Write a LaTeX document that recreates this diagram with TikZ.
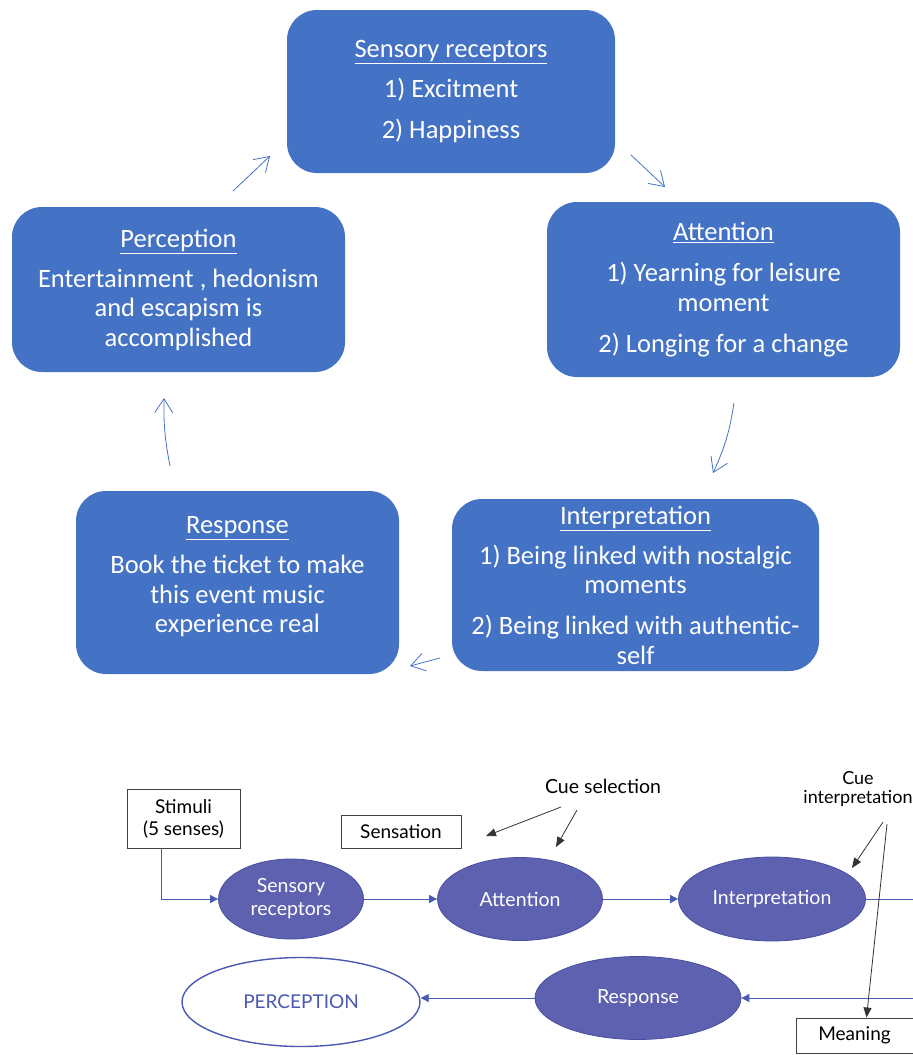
\documentclass[tikz,border=0pt]{standalone}
\usepackage{fontspec}
\setmainfont{Carlito}
\newfontfamily\avfont{Lato}
\usepackage{xcolor}
\usetikzlibrary{positioning,calc,arrows.meta,shapes.geometric}

\definecolor{boxblue}{HTML}{4472C4}
\definecolor{ellblue}{RGB}{93,97,176}
\definecolor{ellrim}{RGB}{72,78,160}
\definecolor{flowblue}{RGB}{74,90,178}

\begin{document}
\begin{tikzpicture}[x=1pt, y=-1pt,
    cyclebox/.style={rectangle, rounded corners=30pt, fill=boxblue, text=white, align=center,
      inner sep=0pt, font=\fontsize{26.5}{29.5}\selectfont},
    cyclearrow/.style={draw=boxblue, line width=0.8pt, -{Straight Barb[length=14pt,width=18pt]}},
    framebox/.style={rectangle, draw=black!75, line width=0.9pt, fill=white, align=center,
      inner sep=0pt, font=\avfont\fontsize{19}{22}\selectfont},
    stage/.style={ellipse, fill=ellblue, draw=ellrim, line width=0.8pt, text=white, align=center,
      inner sep=0pt, font=\avfont\fontsize{19.5}{23}\selectfont},
    flow/.style={draw=flowblue, line width=0.9pt, -{Triangle[length=8pt,width=8pt]}},
    cuearrow/.style={draw=black!80, line width=0.8pt, -{Triangle[length=10pt,width=8pt]}}]
  \useasboundingbox (0,0) rectangle (913,1055);
  \clip (0,0) rectangle (913,1055);

  % Cycle (top)
  \node[cyclebox, minimum width=328pt, minimum height=163pt] (srbox) at (451,91.5)
    {\underline{Sensory receptors}\\[11pt] 1) Excitment\\[11.5pt] 2) Happiness};
  \node[cyclebox, minimum width=353pt, minimum height=175pt] (attbox) at (723.5,289.5)
    {\underline{Attention}\\[11.5pt] 1) Yearning for leisure\\ moment\\[11.5pt] 2) Longing for a change};
  \node[cyclebox, minimum width=333pt, minimum height=165pt] (percbox) at (178.5,289.5)
    {\underline{Perception}\\[10.5pt] Entertainment , hedonism\\ and escapism is\\ accomplished};
  \node[cyclebox, minimum width=367pt, minimum height=172pt] (intbox) at (635.5,585)
    {\underline{Interpretation}\\[10.5pt] 1) Being linked with nostalgic\\ moments\\[11.5pt] 2) Being linked with authentic-\\ self};
  \node[cyclebox, minimum width=323pt, minimum height=183pt] (resbox) at (237.5,582.5) {};
  \node[cyclebox, fill=none] (restext) at (237.5,577)
    {\underline{Response}\\[10.5pt] Book the ticket to make\\ this event music\\ experience real};

  \coordinate (pa) at (233,191);  \coordinate (pb) at (270,156);
  \coordinate (sa) at (631,155);  \coordinate (sb) at (665,187);
  \coordinate (aa) at (734,403);  \coordinate (ab) at (713,473);
  \coordinate (ia) at (440,658);  \coordinate (ib) at (410,666);
  \coordinate (ra) at (170,466);  \coordinate (rb) at (164,398);
  \draw[cyclearrow] (pa) -- (pb);
  \draw[cyclearrow] (sa) -- (sb);
  \draw[cyclearrow] (aa) to[bend left=8] (ab);
  \draw[cyclearrow] (ia) -- (ib);
  \draw[cyclearrow] (ra) to[bend left=6] (rb);

  % Perception process (bottom)
  \node[framebox, minimum width=113pt, minimum height=59pt] (stim) at (183.5,818.5) {Stimuli\\(5 senses)};
  \node[framebox, minimum width=120pt, minimum height=33pt] (sens) at (401,831.5) {Sensation};
  \node[framebox, minimum width=117pt, minimum height=35pt] (meaning) at (854.5,1035.5) {Meaning};
  \node[font=\avfont\fontsize{19.5}{22}\selectfont] (cuesel) at (603,786) {Cue selection};
  \node[font=\avfont\fontsize{18}{19.5}\selectfont, align=center] (cueint) at (858,789) {Cue\\interpretation};

  \node[stage, minimum width=145pt, minimum height=80pt] (esr) at (291,899) {Sensory\\receptors};
  \node[stage, minimum width=165pt, minimum height=83pt] (eatt) at (520,899) {Attention};
  \node[stage, minimum width=187pt, minimum height=84pt] (eint) at (772,899) {Interpretation};
  \node[stage, minimum width=206pt, minimum height=83pt] (eres) at (638,998) {Response};
  \node[ellipse, draw=flowblue, line width=1.4pt, fill=white, text=flowblue, inner sep=0pt,
    minimum width=238pt, minimum height=89pt, font=\avfont\fontsize{19}{22}\selectfont] (eperc) at (301,1002) {PERCEPTION};

  \coordinate (outr) at (925,899);
  \coordinate (inr) at (925,998);
  \draw[flow] ([xshift=-22.5pt]stim.south) |- (esr.west);
  \draw[flow] (esr.east) -- (eatt.west);
  \draw[flow] (eatt.east) -- (eint.west);
  \draw[draw=flowblue, line width=0.9pt] (eint.east) -- (outr);
  \draw[flow] (inr) -- (eres.east);
  \draw[flow] (eres.west) -- (eres.west -| eperc.east);

  \coordinate (cs1) at (561,807); \coordinate (cs1t) at (486,836);
  \coordinate (cs2) at (577,810); \coordinate (cs2t) at (556,847);
  \coordinate (ci1) at (883,822); \coordinate (ci1t) at (852,868);
  \coordinate (ci2) at (887,824);
  \draw[cuearrow] (cs1) -- (cs1t);
  \draw[cuearrow] (cs2) -- (cs2t);
  \draw[cuearrow] (ci1) -- (ci1t);
  \draw[cuearrow] (ci2) -- ([xshift=12pt]meaning.north);
\end{tikzpicture}
\end{document}
